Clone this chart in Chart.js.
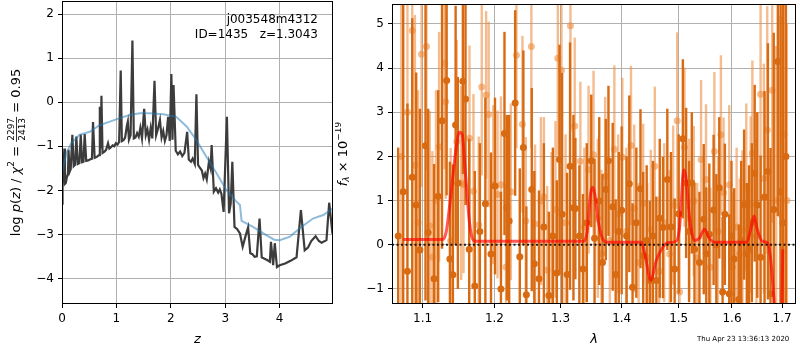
<!DOCTYPE html>
<html>
<head>
<meta charset="utf-8">
<script src="https://cdn.jsdelivr.net/npm/chart.js@4.4.1/dist/chart.umd.min.js"></script>
<style>
  body { margin: 0; background: #fff; }
  #wrap { position: relative; width: 800px; height: 350px; }
  canvas { position: absolute; top: 0; }
</style>
</head>
<body>
<div id="wrap">
  <canvas id="pz" width="345" height="350" style="left:0"></canvas>
  <canvas id="spec" width="465" height="350" style="left:335px"></canvas>
</div>
<script>
// p(z) curve
const zGrid = [
    0.00, 0.01, 0.03, 0.044, 0.055, 0.07, 0.09, 0.11, 0.12, 0.14,
    0.16, 0.19, 0.215, 0.24, 0.264, 0.29, 0.32, 0.344, 0.37, 0.395,
    0.417, 0.445, 0.48, 0.51, 0.55, 0.57, 0.60, 0.64, 0.68, 0.695,
    0.71, 0.725, 0.745, 0.78, 0.81, 0.846, 0.87, 0.90, 0.93, 0.96,
    0.99, 1.02, 1.05, 1.079, 1.10, 1.13, 1.16, 1.19, 1.21, 1.23,
    1.26, 1.294, 1.32, 1.35, 1.38, 1.41, 1.44, 1.47, 1.51, 1.54,
    1.57, 1.60, 1.63, 1.66, 1.70, 1.73, 1.76, 1.80, 1.83, 1.86,
    1.89, 1.92, 1.95, 1.98, 2.01, 2.03, 2.05, 2.09, 2.13, 2.17,
    2.21, 2.25, 2.30, 2.33, 2.37, 2.40, 2.44, 2.47, 2.50, 2.53,
    2.57, 2.60, 2.63, 2.66, 2.70, 2.73, 2.75, 2.79, 2.83, 2.87,
    2.90, 2.93, 2.97, 3.03, 3.07, 3.10, 3.13, 3.17, 3.22, 3.27,
    3.32, 3.37, 3.42, 3.46, 3.50, 3.54, 3.58, 3.63, 3.67, 3.72,
    3.77, 3.82, 3.84, 3.88, 3.91, 3.95, 4.00, 4.10, 4.20, 4.31,
    4.39, 4.46, 4.52, 4.58, 4.66, 4.72, 4.77, 4.86, 4.91, 4.97
];
const logPz = [
    -2.30, -1.90, -1.40, -1.05, -1.85, -1.83, -1.70, -1.61, -1.08, -1.58,
    -1.52, -0.74, -1.45, -1.42, -0.78, -1.40, -1.38, -0.73, -1.36, -1.35,
    -0.72, -1.33, -1.32, -1.30, -1.28, -0.45, -1.26, -1.24, -1.20, -0.10,
    -1.05, 0.15, -1.15, -1.12, -1.08, -0.93, -1.05, -1.02, -0.98, -1.00,
    -0.93, -0.96, -0.90, 0.72, -0.88, -0.86, -0.80, -0.55, -0.44, -0.85,
    -0.75, 1.40, -0.82, -0.80, -0.70, -0.78, -0.58, -0.82, -0.15, -0.75,
    -0.62, -0.85, -0.58, -0.82, 0.49, -0.75, -0.62, -0.40, -0.80, -0.65,
    -0.88, -0.75, -0.33, -0.88, 0.64, -0.85, 0.39, -1.10, -1.18, -1.12,
    -1.22, -1.15, -0.67, -1.30, -1.35, -1.28, -1.40, 0.18, -1.42, -1.48,
    -1.55, -1.72, -1.62, -1.75, -1.35, -1.50, -0.97, -2.03, -1.95, -2.05,
    -1.98, -2.08, -2.49, -0.33, -2.52, -2.30, -1.35, -2.83, -2.88, -2.98,
    -3.28, -3.05, -2.84, -3.43, -3.45, -3.51, -3.50, -2.64, -3.52, -3.55,
    -3.58, -3.62, -3.17, -3.70, -3.20, -3.74, -3.70, -3.66, -3.60, -3.52,
    -2.45, -3.36, -3.30, -3.15, -3.04, -3.15, -3.19, -3.13, -2.28, -2.98
];
// smoothed prior curve
const zSmooth = [0.00, 0.08, 0.17, 0.32, 0.51, 0.69, 0.88, 1.06, 1.24, 1.43,
    1.61, 1.86, 2.10, 2.29, 2.47, 2.65, 2.84, 3.02, 3.20, 3.27,
    3.30, 3.51, 3.76, 3.90, 4.00, 4.19, 4.37, 4.61, 4.80, 4.98];
const logPzSmooth = [-1.60, -1.16, -0.93, -0.74, -0.67, -0.52, -0.44, -0.36, -0.29, -0.25,
    -0.25, -0.27, -0.33, -0.55, -0.86, -1.23, -1.61, -1.99, -2.25, -2.33,
    -2.69, -2.83, -3.02, -3.12, -3.13, -3.05, -2.86, -2.64, -2.56, -2.41];

const zTicks = [0, 1, 2, 3, 4];
const pzTicks = [-4, -3, -2, -1, 0, 1, 2];
const zMin = 0, zMax = 4.98, pzMin = -4.58, pzMax = 2.30;

// spectrum, first grism (dark)
const lamDark = [
    1.0680, 1.0745, 1.0800, 1.0863, 1.0915, 1.0964, 1.1039, 1.1074, 1.1154, 1.1210,
    1.1262, 1.1325, 1.1370, 1.1411, 1.1449, 1.1480, 1.1550, 1.1587, 1.1639, 1.1718,
    1.1790, 1.1869, 1.1950, 1.2008, 1.2095, 1.2147, 1.2182, 1.2216, 1.2305, 1.2374,
    1.2428, 1.2473, 1.2555, 1.2594, 1.2665, 1.2740, 1.2818, 1.2880, 1.2942, 1.2984,
    1.3025, 1.3104, 1.3151, 1.3205, 1.3236, 1.3300, 1.3358, 1.3420, 1.3493, 1.3547,
    1.3624, 1.3678, 1.3733, 1.3777, 1.3848, 1.3898, 1.3950, 1.3999, 1.4083, 1.4129,
    1.4185, 1.4250, 1.4322, 1.4369, 1.4430, 1.4485, 1.4540, 1.4600, 1.4660, 1.4718,
    1.4795, 1.4860, 1.4927, 1.5000, 1.5076, 1.5136, 1.5190, 1.5240, 1.5290, 1.5382,
    1.5462, 1.5510, 1.5567, 1.5648, 1.5700, 1.5756, 1.5819, 1.5863, 1.5947, 1.5990,
    1.6043, 1.6132, 1.6180, 1.6237, 1.6290, 1.6335, 1.6390, 1.6446, 1.6498, 1.6564,
    1.6644, 1.6712, 1.6764, 1.6830, 1.6914, 1.6970, 1.7020, 1.7080
];
const fluxDark = [
    0.20, 1.20, -0.60, 1.53, 0.90, -0.12, 2.24, 0.28, -0.77, 1.10,
    2.81, 3.72, -0.32, -0.68, 2.71, 1.40, 3.70, 3.30, -0.10, -0.93,
    0.30, 0.93, -0.21, 1.33, -1.00, 2.52, 0.84, 0.54, 3.21, -0.27,
    2.20, -1.13, 1.25, -0.43, -0.77, 0.40, -1.15, 0.20, -0.64, 1.93,
    0.69, -0.67, 1.78, 0.84, 0.82, 0.20, -0.55, 0.50, 1.90, 0.15,
    0.99, -0.40, 1.25, 1.90, 0.86, -0.67, 0.30, 0.78, 0.20, 1.38,
    -0.96, 0.50, 1.27, -0.25, 0.10, -0.81, 0.20, -0.81, 0.60, 0.39,
    1.48, 0.40, -0.55, 0.70, 2.40, 1.40, 0.30, 1.40, -0.10, -0.40,
    0.58, -0.20, 0.24, 0.79, 0.00, 1.29, -1.07, 0.69, -1.11, 0.20,
    -0.32, -1.24, 0.10, 0.91, -0.20, -0.10, 0.50, 1.62, 0.90, -0.28,
    1.08, 1.66, -1.11, 0.80, 4.15, 1.20, 0.50, 2.00
];
const errDark = [
    2.0, 4.5, 3.8, 3.6, 3.0, 3.2, 3.5, 2.8, 2.6, 2.4,
    2.9, 2.6, 2.2, 2.5, 2.7, 2.4, 2.1, 2.4, 2.5, 2.6,
    2.0, 2.4, 2.3, 2.0, 2.2, 2.3, 2.1, 2.4, 2.1, 2.0,
    2.2, 2.0, 2.3, 2.1, 2.0, 1.9, 1.9, 2.0, 2.1, 2.6,
    3.2, 2.3, 2.8, 2.1, 1.6, 1.6, 1.7, 1.8, 1.5, 1.8,
    1.9, 2.0, 1.6, 1.7, 1.9, 1.7, 1.8, 1.9, 1.8, 2.0,
    1.9, 1.7, 1.8, 1.9, 1.7, 1.8, 1.7, 1.9, 1.8, 1.6,
    1.6, 1.7, 1.6, 1.8, 1.8, 1.7, 1.6, 1.6, 1.5, 1.6,
    1.7, 1.5, 1.6, 1.7, 1.6, 1.6, 1.7, 1.6, 1.8, 1.7,
    1.6, 1.7, 1.8, 1.7, 1.6, 1.9, 1.8, 2.0, 2.1, 2.3,
    2.4, 2.9, 3.3, 4.0, 3.5, 5.0, 5.0, 4.0
];

// spectrum, second grism (light)
const lamLight = [
    1.0720, 1.0800, 1.0863, 1.0898, 1.0940, 1.0986, 1.1052, 1.1096, 1.1131, 1.1180,
    1.1222, 1.1298, 1.1312, 1.1380, 1.1466, 1.1527, 1.1559, 1.1643, 1.1699, 1.1774,
    1.1817, 1.1880, 1.1917, 1.1983, 1.2045, 1.2095, 1.2170, 1.2241, 1.2324, 1.2414,
    1.2464, 1.2549, 1.2605, 1.2695, 1.2741, 1.2792, 1.2860, 1.2921, 1.2957, 1.3015,
    1.3080, 1.3157, 1.3225, 1.3316, 1.3380, 1.3449, 1.3530, 1.3600, 1.3660, 1.3722,
    1.3800, 1.3876, 1.3940, 1.4011, 1.4080, 1.4158, 1.4214, 1.4290, 1.4369, 1.4440,
    1.4502, 1.4572, 1.4650, 1.4740, 1.4837, 1.4900, 1.4973, 1.5016, 1.5106, 1.5190,
    1.5277, 1.5340, 1.5412, 1.5505, 1.5587, 1.5663, 1.5730, 1.5787, 1.5838, 1.5947,
    1.6010, 1.6090, 1.6150, 1.6204, 1.6280, 1.6367, 1.6400, 1.6480, 1.6564, 1.6630,
    1.6698, 1.6799, 1.6880, 1.6967, 1.7040, 1.7100
];
const fluxLight = [
    2.00, 3.00, 4.85, 1.80, 0.50, 4.31, 4.49, 0.43, -0.28, 1.00,
    2.22, 4.11, 3.24, 0.09, 2.34, 1.40, 1.36, 2.41, 1.21, 0.45,
    3.57, 3.39, 2.95, 1.36, 1.14, 1.36, -0.50, 1.20, 4.29, 2.73,
    0.54, 4.49, 0.47, 0.99, 1.09, -0.57, 0.20, 0.80, 4.22, 3.95,
    0.50, 4.96, 2.69, 1.89, 0.40, 1.70, 2.04, 0.60, -0.20, 1.55,
    0.10, 2.16, 0.70, 1.98, 0.30, 2.25, 0.82, -0.40, 0.94, -0.30,
    0.35, 1.78, -0.60, 0.50, -0.21, 0.90, 2.81, -1.07, 2.21, 0.60,
    0.99, -0.30, 1.93, 1.48, -0.51, 2.11, 0.30, 2.49, 1.18, 1.36,
    -0.50, 0.40, -0.20, 0.34, 1.30, 0.91, 2.07, 0.20, 3.41, 1.50,
    2.60, 3.50, 1.00, 0.69, 2.50, 1.00
];
const errLight = [
    3.5, 3.0, 2.8, 3.4, 3.0, 3.0, 2.8, 2.6, 2.4, 2.5,
    2.6, 2.4, 2.2, 2.1, 2.3, 2.2, 2.0, 2.1, 2.2, 2.0,
    2.0, 1.9, 2.1, 1.8, 1.9, 2.0, 1.9, 2.0, 2.1, 2.0,
    1.9, 2.3, 1.8, 1.9, 1.8, 1.9, 1.9, 2.0, 2.2, 2.1,
    2.0, 2.4, 2.0, 1.8, 1.8, 1.9, 1.9, 1.8, 1.9, 1.8,
    1.8, 1.9, 1.8, 1.8, 1.9, 1.8, 1.9, 1.8, 1.8, 1.7,
    1.8, 1.8, 1.7, 1.8, 1.9, 1.8, 2.0, 1.8, 1.8, 1.8,
    1.7, 1.7, 1.8, 1.7, 1.8, 1.8, 1.7, 1.8, 1.7, 1.8,
    1.7, 1.8, 1.7, 1.8, 1.9, 2.0, 2.1, 2.2, 2.4, 2.6,
    2.8, 3.0, 3.5, 4.5, 4.5, 4.0
];

// best-fit line model
const lamModel = [
    1.0745, 1.1275, 1.1320, 1.1388, 1.1457, 1.1504, 1.1540, 1.1587, 1.1643, 1.1699,
    1.1737, 1.3373, 1.3427, 1.3481, 1.3520, 1.3557, 1.3612, 1.3694, 1.3749, 1.4339,
    1.4397, 1.4502, 1.4600, 1.4718, 1.4807, 1.4956, 1.5016, 1.5094, 1.5136, 1.5198,
    1.5290, 1.5382, 1.5475, 1.5567, 1.5660, 1.6289, 1.6367, 1.6433, 1.6498, 1.6599,
    1.6698, 1.6765, 1.6833, 1.6900, 1.6960, 1.6990, 1.7015
];
const fluxModel = [
    0.12, 0.12, 0.30, 1.20, 2.20, 2.55, 2.50, 1.60, 0.50, 0.10,
    0.08, 0.08, 0.30, 1.15, 1.30, 1.10, 0.50, 0.10, 0.06, 0.06,
    -0.20, -0.80, -0.35, -0.05, 0.05, 0.08, 0.40, 1.70, 1.50, 0.60,
    0.10, 0.15, 0.35, 0.15, 0.06, 0.06, 0.35, 0.65, 0.35, 0.08,
    0.05, -0.30, -1.20, -2.20, -3.20, -2.00, -0.10
];

const lamTicks = [1.1, 1.2, 1.3, 1.4, 1.5, 1.6, 1.7];
const fluxTicks = [-1, 0, 1, 2, 3, 4, 5];
const lamMin = 1.060, lamMax = 1.729, fluxMin = -1.34, fluxMax = 5.45;

const FONT = "'DejaVu Sans', sans-serif";
const DARK = '#d86a12';
const LIGHT = 'rgba(236,140,62,0.58)';
const minus = v => String(v).replace('-', '\u2212');
const xy = (xs, ys) => xs.map((x, i) => ({ x: x, y: ys[i] }));

// vertical error bars drawn under each dataset's markers
const errorBars = {
    id: 'errorBars',
    beforeDatasetDraw(chart, args) {
        const ds = chart.data.datasets[args.index];
        if (!ds.errors) return;
        const { ctx, chartArea: a, scales } = chart;
        ctx.save();
        ctx.beginPath();
        ctx.rect(a.left, a.top, a.right - a.left, a.bottom - a.top);
        ctx.clip();
        ctx.strokeStyle = ds.barColor;
        ctx.lineWidth = 2.4;
        ds.data.forEach((p, i) => {
            const x = scales.x.getPixelForValue(p.x);
            ctx.beginPath();
            ctx.moveTo(x, scales.y.getPixelForValue(p.y - ds.errors[i]));
            ctx.lineTo(x, scales.y.getPixelForValue(p.y + ds.errors[i]));
            ctx.stroke();
        });
        ctx.restore();
    }
};

// full black frame around the axes
const frame = {
    id: 'frame',
    afterDraw(chart) {
        const { ctx, chartArea: a } = chart;
        ctx.save();
        ctx.strokeStyle = '#000';
        ctx.lineWidth = 1;
        ctx.strokeRect(Math.round(a.left) + 0.5, Math.round(a.top) + 0.5,
            Math.round(a.right - a.left) - 1, Math.round(a.bottom - a.top) - 1);
        ctx.restore();
    }
};

// draw a row of text pieces (rotated for y labels), centred on cx,cy
function drawPieces(ctx, cx, cy, pieces, rotate) {
    ctx.save();
    ctx.translate(cx, cy);
    if (rotate) ctx.rotate(-Math.PI / 2);
    ctx.textBaseline = 'middle';
    ctx.textAlign = 'left';
    ctx.fillStyle = '#000';
    ctx.strokeStyle = '#000';
    let total = 0;
    pieces.forEach(p => {
        ctx.font = p.font;
        p.w = p.frac ? Math.max(ctx.measureText(p.frac[0]).width, ctx.measureText(p.frac[1]).width) + 2
                     : ctx.measureText(p.text).width;
        total += p.w;
    });
    let x = -total / 2;
    pieces.forEach(p => {
        ctx.font = p.font;
        if (p.frac) {
            ctx.textAlign = 'center';
            ctx.fillText(p.frac[0], x + p.w / 2, -5.5);
            ctx.fillText(p.frac[1], x + p.w / 2, 5.5);
            ctx.lineWidth = 0.8;
            ctx.beginPath();
            ctx.moveTo(x, -0.5);
            ctx.lineTo(x + p.w, -0.5);
            ctx.stroke();
            ctx.textAlign = 'left';
        } else {
            ctx.fillText(p.text, x, p.dy || 0);
        }
        x += p.w;
    });
    ctx.restore();
}

const R = '13px ' + FONT, I = 'italic 13px ' + FONT, S = '9px ' + FONT, SI = 'italic 9px ' + FONT;

const pzText = {
    id: 'pzText',
    afterDraw(chart) {
        const { ctx, chartArea: a } = chart;
        ctx.save();
        ctx.font = '12px ' + FONT;
        ctx.fillStyle = '#000';
        ctx.textAlign = 'right';
        ctx.textBaseline = 'middle';
        ctx.fillText('j003548m4312', 318, 20);
        ctx.fillText('ID=1435   z=1.3043', 318, 35);
        ctx.restore();
        drawPieces(ctx, (a.left + a.right) / 2, 340, [{ text: 'z', font: I }], false);
        drawPieces(ctx, 17, (a.top + a.bottom) / 2, [
            { text: 'log ', font: R }, { text: 'p', font: I }, { text: '(', font: R },
            { text: 'z', font: I }, { text: ') / ', font: R }, { text: '\u03c7', font: I },
            { text: '2', font: S, dy: -5 }, { text: ' = ', font: R },
            { frac: ['2297', '2413'], font: S }, { text: ' = 0.95', font: R }
        ], true);
    }
};

const specText = {
    id: 'specText',
    afterDraw(chart) {
        const { ctx, chartArea: a } = chart;
        drawPieces(ctx, (a.left + a.right) / 2, 340, [{ text: '\u03bb', font: I }], false);
        drawPieces(ctx, 9, (a.top + a.bottom) / 2, [
            { text: 'f', font: I }, { text: '\u03bb', font: SI, dy: 3 },
            { text: ' \u00d7 10', font: R }, { text: '\u221219', font: S, dy: -5 }
        ], true);
        ctx.save();
        ctx.font = '7px ' + FONT;
        ctx.fillStyle = '#000';
        ctx.textBaseline = 'middle';
        ctx.fillText('Thu Apr 23 13:36:13 2020', 362, 339);
        ctx.restore();
    }
};

function axis(min, max, ticks, size, fmt, extra) {
    return Object.assign({
        min: min,
        max: max,
        afterBuildTicks: s => { s.ticks = ticks.map(v => ({ value: v })); },
        afterFit: s => {
            if (s.isHorizontal()) s.height = 46; else s.width = size;
            s.paddingTop = 0; s.paddingBottom = 0; s.paddingLeft = 0; s.paddingRight = 0;
        },
        grid: { color: '#b0b0b0', lineWidth: 1, tickColor: '#000', tickLength: 4, drawTicks: true },
        border: { display: false },
        ticks: { color: '#000', font: { family: FONT, size: 12 }, padding: 4,
                 autoSkip: false, maxRotation: 0, callback: fmt }
    }, extra || {});
}

const common = {
    responsive: false,
    animation: false,
    devicePixelRatio: 1,
    plugins: { legend: { display: false }, tooltip: { enabled: false } }
};

new Chart(document.getElementById('pz').getContext('2d'), {
    type: 'scatter',
    data: {
        datasets: [{
            data: xy(zSmooth, logPzSmooth),
            showLine: true,
            borderColor: 'rgba(31,119,180,0.5)',
            borderWidth: 2,
            pointRadius: 0,
            order: 0
        }, {
            data: xy(zGrid, logPz),
            showLine: true,
            borderColor: '#3c3c3c',
            borderWidth: 2.2,
            pointRadius: 0,
            order: 1
        }]
    },
    options: Object.assign({}, common, {
        layout: { padding: { left: 0, right: 12, top: 1, bottom: 0 } },
        scales: {
            x: axis(zMin, zMax, zTicks, 46, v => minus(v), { type: 'linear' }),
            y: axis(pzMin, pzMax, pzTicks, 62, v => minus(v))
        }
    }),
    plugins: [frame, pzText]
});

new Chart(document.getElementById('spec').getContext('2d'), {
    type: 'scatter',
    data: {
        datasets: [{
            data: [{ x: lamMin, y: 0 }, { x: lamMax, y: 0 }],
            showLine: true,
            borderColor: 'rgba(0,0,0,0.85)',
            borderWidth: 2,
            borderDash: [2, 2.5],
            pointRadius: 0,
            order: 0
        }, {
            data: xy(lamModel, fluxModel),
            showLine: true,
            borderColor: 'rgba(255,0,0,0.65)',
            borderWidth: 3,
            cubicInterpolationMode: 'monotone',
            pointRadius: 0,
            order: 1
        }, {
            data: xy(lamDark, fluxDark),
            errors: errDark,
            barColor: DARK,
            pointRadius: 3.5,
            pointBackgroundColor: DARK,
            pointBorderWidth: 0,
            order: 2
        }, {
            data: xy(lamLight, fluxLight),
            errors: errLight,
            barColor: LIGHT,
            pointRadius: 3.5,
            pointBackgroundColor: LIGHT,
            pointBorderWidth: 0,
            order: 3
        }]
    },
    options: Object.assign({}, common, {
        layout: { padding: { left: 0, right: 1, top: 1, bottom: 0 } },
        scales: {
            x: axis(lamMin, lamMax, lamTicks, 46, v => v.toFixed(1), { type: 'logarithmic' }),
            y: axis(fluxMin, fluxMax, fluxTicks, 57, v => minus(v))
        }
    }),
    plugins: [errorBars, frame, specText]
});
</script>
</body>
</html>
